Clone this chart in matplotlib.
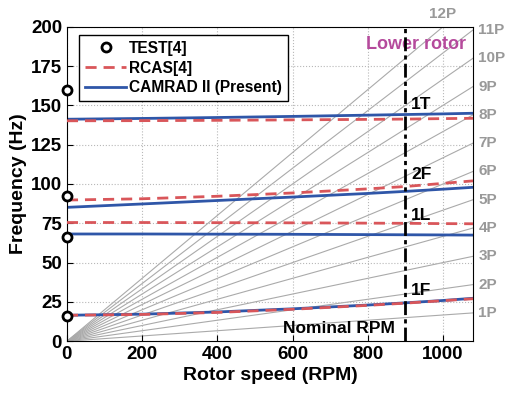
import numpy as np
import matplotlib.pyplot as plt

plt.rcParams['font.family'] = ['Liberation Sans', 'DejaVu Sans']
plt.rcParams['font.weight'] = 'bold'

# rotor speed sample points (RPM)
rpm = [0, 200, 400, 600, 800, 900, 1000, 1080]

# CAMRAD II (Present)
cam_1f = [16.5, 17.2, 18.6, 20.6, 23.0, 24.4, 25.9, 27.3]
cam_1l = [68.2, 68.2, 68.1, 68.0, 67.8, 67.7, 67.6, 67.5]
cam_2f = [85.2, 87.3, 89.5, 91.7, 94.0, 95.3, 96.7, 97.9]
cam_1t = [141.2, 141.7, 142.3, 143.0, 143.8, 144.2, 144.6, 145.0]

# RCAS[4]
rcas_1f = [16.5, 17.0, 18.3, 20.3, 22.8, 24.2, 25.8, 27.0]
rcas_1l = [75.5, 75.5, 75.4, 75.3, 75.1, 75.0, 74.8, 74.7]
rcas_2f = [89.8, 90.6, 92.2, 94.3, 96.9, 98.4, 100.4, 102.0]
rcas_1t = [140.2, 140.3, 140.5, 140.8, 141.1, 141.3, 141.6, 141.8]

# TEST[4] (measured at 0 RPM)
test_rpm = [0, 0, 0, 0]
test_freq = [16.0, 66.0, 92.5, 160.0]

per_rev = list(range(1, 13))
rpm_max = 1080
nominal_rpm = 900

fig = plt.figure(figsize=(5.07, 4.0), dpi=100)
ax = fig.add_axes([0.132, 0.147, 0.801, 0.786])

# per-rev fan lines
for n in per_rev:
    ax.plot([0, rpm_max], [0, n * rpm_max / 60], color='#aaaaaa', lw=0.8, zorder=1)
    f_end = n * rpm_max / 60
    if f_end <= 200:
        ax.text(rpm_max + 14, f_end, f'{n}P', color='#999999', fontsize=11,
                fontweight='bold', va='center', ha='left', clip_on=False)
    else:
        ax.text(200 * 60 / n, 204, f'{n}P', color='#999999', fontsize=11,
                fontweight='bold', va='bottom', ha='center', clip_on=False)

red = '#d9565a'
blue = '#2f56a8'
dash = (4, 2.5)
ax.plot(rpm, rcas_1f, '--', color=red, lw=2, dashes=dash, zorder=3)
ax.plot(rpm, cam_1f, '-', color=blue, lw=2, zorder=2)
ax.plot(rpm, rcas_1l, '--', color=red, lw=2, dashes=dash, zorder=3)
ax.plot(rpm, cam_1l, '-', color=blue, lw=2, zorder=2)
ax.plot(rpm, rcas_2f, '--', color=red, lw=2, dashes=dash, zorder=3)
ax.plot([5] + rpm[1:], [cam_2f[0]] + cam_2f[1:], '-', color=blue, lw=2, zorder=2)
ax.plot(rpm, rcas_1t, '--', color=red, lw=2, dashes=dash, zorder=3,
        label='RCAS[4]')
ax.plot(rpm, cam_1t, '-', color=blue, lw=2, zorder=2,
        label='CAMRAD II (Present)')
ax.plot(test_rpm, test_freq, 'o', mfc='white', mec='black', mew=2, ms=6.5,
        zorder=5, clip_on=False, label='TEST[4]')

ax.axvline(nominal_rpm, color='black', lw=2, ls=(0, (5, 1.5, 1.5, 1.5)), zorder=4)

ax.text(872, 8, 'Nominal RPM', fontsize=12.5, fontweight='bold', ha='right', va='center')
ax.text(1060, 189, 'Lower rotor', fontsize=13, fontweight='bold', color='#b54a9c',
        ha='right', va='center')
mode_labels = [('1T', 150.5), ('2F', 106), ('1L', 80), ('1F', 32)]
for name, y in mode_labels:
    ax.text(915, y, name, fontsize=12.5, fontweight='bold', ha='left', va='center')

ax.set_xlim(0, rpm_max)
ax.set_ylim(0, 200)
ax.set_xticks(range(0, 1001, 200))
ax.set_yticks(range(0, 201, 25))
ax.grid(True, color='#b8b8b8', ls=':', lw=0.8)
ax.tick_params(labelsize=13.5, direction='in', length=4)
for lbl in ax.get_xticklabels() + ax.get_yticklabels():
    lbl.set_fontweight('bold')
ax.set_xlabel('Rotor speed (RPM)', fontsize=14, fontweight='bold', labelpad=3)
ax.set_ylabel('Frequency (Hz)', fontsize=14, fontweight='bold', labelpad=3)

handles, labels = ax.get_legend_handles_labels()
order = [2, 0, 1]
leg = ax.legend([handles[i] for i in order], [labels[i] for i in order],
                loc='upper left', bbox_to_anchor=(0.03, 0.975), fancybox=False,
                edgecolor='black', framealpha=1, fontsize=11.2, handlelength=2.6,
                handletextpad=0.2, borderpad=0.4, labelspacing=0.3,
                borderaxespad=0)
leg.get_frame().set_linewidth(1)

fig.savefig('out.png', dpi=100)
